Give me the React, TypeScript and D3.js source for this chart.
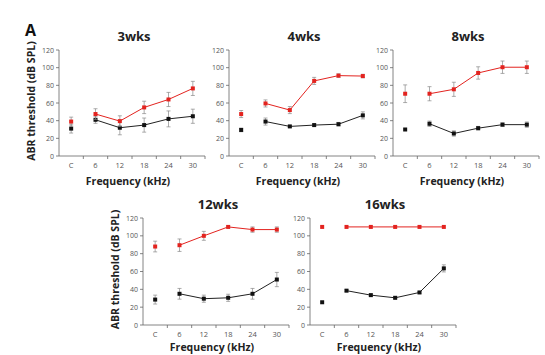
import React from "react";
import * as d3 from "d3";

const categories = ["C", "6", "12", "18", "24", "30"];
const yTicks = [0, 20, 40, 60, 80, 100, 120];
const panelTitles = ["3wks", "4wks", "8wks", "12wks", "16wks"];

const red3 = [39, 47.5, 39.5, 55, 64, 76.5];
const redErr3 = [5, 6, 6, 7, 8, 8];
const black3 = [31, 41, 32, 35, 42, 45];
const blackErr3 = [5, 4, 8, 8, 9, 8];

const red4 = [47.5, 59.5, 52, 85, 91, 90.5];
const redErr4 = [4, 4, 4, 4, 2, 2];
const black4 = [29.5, 39, 33.5, 35, 36, 46];
const blackErr4 = [2, 4, 1, 1, 2, 4];

const red8 = [70.5, 70.5, 75.5, 94, 100.5, 100.5];
const redErr8 = [10, 8, 8, 7, 7, 7];
const black8 = [30, 36.5, 25.5, 31.5, 35.5, 35.5];
const blackErr8 = [0, 3, 3, 2, 2, 3];

const red12 = [88, 89.5, 100, 110, 107, 107];
const redErr12 = [6, 7, 5, 1, 3, 3];
const black12 = [28.5, 35, 29.5, 30.5, 35, 51];
const blackErr12 = [5, 6, 4, 4, 6, 8];

const red16 = [110, 110, 110, 110, 110, 110];
const redErr16 = [0, 0, 0, 0, 0, 0];
const black16 = [25.5, 38.5, 33.5, 30.5, 36.5, 63.5];
const blackErr16 = [0, 1, 1, 1, 1, 4];

const panelData = [
  { red: red3, redErr: redErr3, black: black3, blackErr: blackErr3 },
  { red: red4, redErr: redErr4, black: black4, blackErr: blackErr4 },
  { red: red8, redErr: redErr8, black: black8, blackErr: blackErr8 },
  { red: red12, redErr: redErr12, black: black12, blackErr: blackErr12 },
  { red: red16, redErr: redErr16, black: black16, blackErr: blackErr16 },
];

const layouts = [
  { x0: 59, x1: 205, yTop: 50, yBot: 156, yLabel: true, xlabOff: 29 },
  { x0: 229, x1: 375, yTop: 50, yBot: 156, yLabel: false, xlabOff: 29 },
  { x0: 393, x1: 539, yTop: 50, yBot: 156, yLabel: false, xlabOff: 29 },
  { x0: 143, x1: 289, yTop: 218, yBot: 325, yLabel: true, xlabOff: 26 },
  { x0: 310, x1: 456, yTop: 218, yBot: 325, yLabel: false, xlabOff: 26 },
];

const FONT = "'Open Sans', 'Liberation Sans', sans-serif";
const RED = "#e3231f";

function Panel({ idx }: { idx: number }) {
  const L = layouts[idx];
  const D = panelData[idx];
  const x = d3.scaleBand<string>().domain(categories).range([L.x0, L.x1]);
  const y = d3.scaleLinear().domain([0, 120]).range([L.yBot, L.yTop]);
  const cx = (c: string) => (x(c) as number) + x.bandwidth() / 2;
  const line = d3
    .line<number>()
    .x((_, i) => cx(categories[i + 1]))
    .y((v) => y(v));
  const series = [
    { vals: D.black, errs: D.blackErr, color: "#111", lineColor: "#222" },
    { vals: D.red, errs: D.redErr, color: RED, lineColor: RED },
  ];
  const midX = (L.x0 + L.x1) / 2;
  return (
    <g>
      <text x={midX + 2} y={L.yTop - 9} textAnchor="middle" fontFamily={FONT} fontWeight="bold" fontSize={13} fill="#222">
        {panelTitles[idx]}
      </text>
      <line x1={L.x0} x2={L.x0} y1={L.yTop} y2={L.yBot} stroke="#666" strokeWidth={0.8} />
      {yTicks.map((t) => (
        <g key={t}>
          <line x1={L.x0 - 3} x2={L.x0} y1={y(t)} y2={y(t)} stroke="#666" strokeWidth={0.8} />
          <text x={L.x0 - 5} y={y(t) + 2.5} textAnchor="end" fontFamily={FONT} fontSize={7} fill="#555">
            {t}
          </text>
        </g>
      ))}
      <line x1={L.x0} x2={L.x1} y1={L.yBot} y2={L.yBot} stroke="#666" strokeWidth={0.8} />
      {categories.map((c) => (
        <g key={c}>
          <line x1={(x(c) as number) + x.bandwidth()} x2={(x(c) as number) + x.bandwidth()} y1={L.yBot} y2={L.yBot + 3} stroke="#666" strokeWidth={0.8} />
          <text x={cx(c)} y={L.yBot + 12} textAnchor="middle" fontFamily={FONT} fontSize={7.5} fill="#555">
            {c}
          </text>
        </g>
      ))}
      <text x={midX - 4} y={L.yBot + L.xlabOff} textAnchor="middle" fontFamily={FONT} fontWeight="bold" fontSize={10.5} fill="#222">
        Frequency (kHz)
      </text>
      {L.yLabel && (
        <text
          transform={`translate(${L.x0 - 24},${(L.yTop + L.yBot) / 2 - 2}) rotate(-90)`}
          textAnchor="middle"
          fontFamily={FONT}
          fontWeight="bold"
          fontSize={10.5}
          fill="#222"
        >
          ABR threshold (dB SPL)
        </text>
      )}
      {series.map((s, si) => (
        <g key={si}>
          <path d={line(s.vals.slice(1)) || ""} fill="none" stroke={s.lineColor} strokeWidth={1} />
          {s.vals.map((v, i) => {
            const px = cx(categories[i]);
            const e = s.errs[i];
            return (
              <g key={i}>
                {e > 0 && (
                  <g stroke="#888" strokeWidth={0.7}>
                    <line x1={px} x2={px} y1={y(v - e)} y2={y(v + e)} />
                    <line x1={px - 2} x2={px + 2} y1={y(v - e)} y2={y(v - e)} />
                    <line x1={px - 2} x2={px + 2} y1={y(v + e)} y2={y(v + e)} />
                  </g>
                )}
                <rect x={px - 2} y={y(v) - 2} width={4} height={4} fill={s.color} />
              </g>
            );
          })}
        </g>
      ))}
    </g>
  );
}

export default function App() {
  return (
    <svg width={545} height={355} style={{ position: "absolute", left: 0, top: 0, background: "#fff" }}>
      <rect x={0} y={0} width={545} height={355} fill="#fff" />
      <text x={25} y={36} fontFamily={FONT} fontWeight="bold" fontSize={16} fill="#111">
        A
      </text>
      {panelTitles.map((_, i) => (
        <Panel key={i} idx={i} />
      ))}
    </svg>
  );
}
